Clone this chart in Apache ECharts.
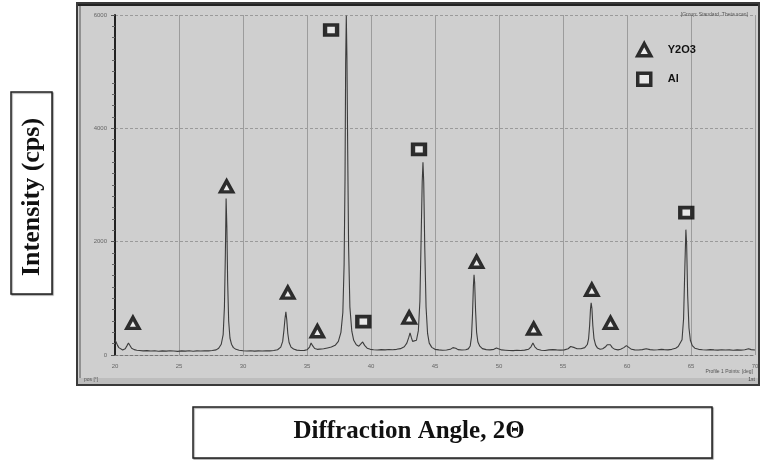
<!DOCTYPE html>
<html><head><meta charset="utf-8">
<script src="https://cdn.jsdelivr.net/npm/echarts@6/dist/echarts.min.js"></script>
<style>html,body{margin:0;padding:0;background:#fff}#c{width:764px;height:460px}</style>
</head><body><div id="c"></div>
<script>
// 2-theta (deg) and intensity (cps)
const twoTheta = [
 20.0,20.1,20.2,20.3,20.45,20.6,20.8,20.95,21.05,21.15,21.3,21.5,21.7,21.9,22.2,22.5,22.8,23.1,23.4,23.7,
 24.0,24.3,24.6,24.9,25.2,25.5,25.8,26.1,26.4,26.7,27.0,27.3,27.6,27.9,28.1,28.3,28.45,28.55,28.62,28.68,
 28.74,28.8,28.88,28.98,29.1,29.25,29.45,29.7,30.0,30.3,30.6,30.9,31.2,31.5,31.8,32.1,32.4,32.7,32.95,33.1,
 33.2,33.28,33.35,33.42,33.5,33.6,33.75,33.95,34.2,34.5,34.8,35.0,35.2,35.32,35.45,35.6,35.8,36.0,36.3,36.6,
 36.9,37.2,37.45,37.65,37.8,37.9,37.97,38.02,38.07,38.12,38.18,38.25,38.35,38.5,38.65,38.85,39.05,39.2,39.35,39.5,
 39.7,39.95,40.2,40.5,40.8,41.1,41.4,41.7,42.0,42.3,42.6,42.8,42.95,43.05,43.15,43.25,43.4,43.55,43.7,43.82,
 43.92,44.0,44.06,44.12,44.2,44.3,44.42,44.55,44.75,45.0,45.3,45.6,45.9,46.2,46.4,46.5,46.62,46.8,47.1,47.4,
 47.6,47.75,47.85,47.93,48.0,48.05,48.1,48.17,48.25,48.35,48.5,48.7,49.0,49.3,49.6,49.8,49.95,50.2,50.5,50.8,
 51.1,51.4,51.7,52.0,52.3,52.5,52.65,52.8,53.0,53.3,53.6,53.9,54.2,54.35,54.5,54.8,55.1,55.4,55.6,55.75,
 55.9,56.1,56.4,56.7,56.9,57.0,57.08,57.15,57.2,57.26,57.33,57.42,57.55,57.7,57.9,58.1,58.3,58.45,58.58,58.7,
 58.85,59.05,59.3,59.5,59.75,59.95,60.1,60.35,60.6,60.9,61.2,61.5,61.8,62.1,62.4,62.7,62.9,63.2,63.5,63.8,
 64.0,64.15,64.3,64.42,64.52,64.6,64.66,64.74,64.84,64.95,65.1,65.3,65.6,65.9,66.2,66.5,66.8,67.1,67.4,67.7,
 68.0,68.3,68.6,68.9,69.2,69.5,69.7,70.0
];
const intensity = [
 265,220,170,130,100,88,110,170,212,180,120,95,85,80,72,78,70,74,66,72,
 68,75,70,64,72,68,74,66,72,70,76,72,80,90,120,190,360,850,1750,2760,
 2250,1300,600,300,190,130,100,84,74,70,75,68,72,70,76,72,80,92,140,240,
 440,640,761,620,380,220,140,105,86,80,82,92,140,212,160,115,100,104,110,125,
 140,170,240,400,750,1600,3100,5150,5990,5250,3600,1900,850,420,260,180,155,190,230,170,
 120,100,92,88,95,90,98,92,100,112,145,210,310,390,310,240,210,260,430,950,
 2100,3050,3400,3050,1900,850,380,210,135,100,90,85,88,100,130,150,120,95,88,92,
 108,160,320,720,1220,1416,1270,780,400,230,155,112,95,90,100,125,110,90,85,80,
 78,84,80,86,100,145,212,145,100,85,80,90,95,105,90,86,90,110,150,165,
 130,110,110,130,185,290,520,820,920,820,520,290,175,122,100,110,140,180,212,180,
 130,100,90,100,130,165,130,100,90,88,95,110,95,88,92,100,95,90,100,120,
 150,185,270,640,1550,2212,1950,1050,480,260,165,120,100,92,88,95,90,86,92,88,
 90,85,90,86,92,110,95,88
];
// phase marker annotations (position, height)
const y2o3Angle = [21.4, 28.72, 33.5, 35.81, 42.98, 48.25, 52.71, 57.25, 58.71];
const y2o3Level = [566, 2975, 1100, 420, 660, 1646, 465, 1150, 566];
const alAngle = [36.88, 39.4, 43.75, 64.63];
const alLevel = [5735, 590, 3630, 2513];
const xTickValues = [20, 25, 30, 35, 40, 45, 50, 55, 60, 65, 70];
const yTickValues = [0, 2000, 4000, 6000];

const zip = (a, b) => a.map((v, i) => [v, b[i]]);

const chart = echarts.init(document.getElementById('c'), null, {renderer: 'canvas'});
const serifBold = 'bold 25px "Liberation Serif", "DejaVu Serif", serif';
chart.setOption({
  animation: false,
  backgroundColor: '#ffffff',
  grid: {left: 115, top: 15, width: 640, height: 340, show: false},
  xAxis: {
    type: 'value', min: xTickValues[0], max: xTickValues[xTickValues.length - 1], interval: 5,
    axisLine: {show: true, onZero: false, lineStyle: {color: '#777', width: 1, type: [3, 2]}},
    axisTick: {show: false},
    axisLabel: {fontSize: 6, color: '#666', margin: 8, fontFamily: 'Liberation Sans', formatter: v => String(v)},
    splitLine: {show: true, lineStyle: {color: '#9c9c9c', width: 1}}
  },
  yAxis: {
    type: 'value', min: yTickValues[0], max: yTickValues[yTickValues.length - 1], interval: 2000,
    axisLine: {show: true, lineStyle: {color: '#222', width: 2}},
    axisTick: {show: true, length: 4, lineStyle: {color: '#555'}},
    minorTick: {show: true, splitNumber: 10, length: 3, lineStyle: {color: '#666'}},
    axisLabel: {fontSize: 6, color: '#666', margin: 8, fontFamily: 'Liberation Sans', formatter: v => String(v)},
    splitLine: {show: true, lineStyle: {color: '#9a9a9a', width: 1, type: [3, 2]}}
  },
  legend: {
    orient: 'vertical', left: 631, top: 37, itemGap: 14, itemWidth: 13, itemHeight: 12,
    data: ['Y2O3', 'Al'],
    itemStyle: {borderWidth: 3.5},
    textStyle: {fontSize: 11, fontWeight: 'bold', color: '#111', fontFamily: 'Liberation Sans', padding: [0, 0, 0, 12]}
  },
  graphic: [
    {type: 'rect', z: -10, shape: {x: 77, y: 3, width: 682, height: 382},
     style: {fill: '#cfcfcf', stroke: '#3a3a3a', lineWidth: 2}},
    {type: 'line', z: -9, shape: {x1: 80, y1: 4, x2: 80, y2: 384}, style: {stroke: '#555', lineWidth: 1}},
    {type: 'rect', z: -9, shape: {x: 78, y: 378, width: 680, height: 6}, style: {fill: '#bdbdbd'}},
    {type: 'line', z: -9, shape: {x1: 78, y1: 5, x2: 758, y2: 5}, style: {stroke: '#222', lineWidth: 2}},
    {type: 'text', z: 5, x: 748, y: 15, style: {text: '[Group: Standard, Theta scan]', font: '5px "Liberation Sans"', fill: '#555', align: 'right', verticalAlign: 'middle', textAlign: 'right', textVerticalAlign: 'middle'}},
    {type: 'text', z: 5, x: 753, y: 372, style: {text: 'Profile 1 Points: [deg]', font: '5px "Liberation Sans"', fill: '#555', align: 'right', verticalAlign: 'middle', textAlign: 'right', textVerticalAlign: 'middle'}},
    {type: 'text', z: 5, x: 84, y: 380, style: {text: 'pos [°]', font: '5px "Liberation Sans"', fill: '#555', verticalAlign: 'middle', textVerticalAlign: 'middle'}},
    {type: 'text', z: 5, x: 755, y: 380, style: {text: '1st', font: '5px "Liberation Sans"', fill: '#444', align: 'right', verticalAlign: 'middle', textAlign: 'right', textVerticalAlign: 'middle'}},
    {type: 'rect', shape: {x: 11, y: 92, width: 41, height: 202},
     style: {fill: '#fff', stroke: '#222', lineWidth: 1.5, shadowColor: 'rgba(0,0,0,0.35)', shadowOffsetX: 1, shadowOffsetY: 1, shadowBlur: 1}},
    {type: 'text', x: 32, y: 197, rotation: Math.PI / 2,
     style: {text: 'Intensity (cps)', font: 'bold 26px "Liberation Serif", "DejaVu Serif", serif', fill: '#111', align: 'center', verticalAlign: 'middle', textAlign: 'center', textVerticalAlign: 'middle'}},
    {type: 'rect', shape: {x: 193, y: 407, width: 519, height: 51},
     style: {fill: '#fff', stroke: '#222', lineWidth: 1.5, shadowColor: 'rgba(0,0,0,0.35)', shadowOffsetX: 1, shadowOffsetY: 1, shadowBlur: 1}},
    {type: 'text', x: 409, y: 432,
     style: {text: 'Diffraction Angle, 2\u0398', font: serifBold, fill: '#111', align: 'center', verticalAlign: 'middle', textAlign: 'center', textVerticalAlign: 'middle'}}
  ],
  series: [
    {type: 'line', name: 'pattern', data: zip(twoTheta, intensity), showSymbol: false, symbol: 'none',
     lineStyle: {color: '#3c3c3c', width: 1.1}, z: 2, clip: true},
    {type: 'scatter', name: 'Y2O3', data: zip(y2o3Angle, y2o3Level), symbol: 'triangle', symbolSize: [12, 11],
     itemStyle: {color: '#f4f4f4', borderColor: '#000', borderWidth: 3.5}, z: 4},
    {type: 'scatter', name: 'Al', data: zip(alAngle, alLevel), symbol: 'rect', symbolSize: [12, 10],
     itemStyle: {color: '#eeeeee', borderColor: '#000', borderWidth: 4}, z: 4}
  ]
});
</script>
</body></html>
